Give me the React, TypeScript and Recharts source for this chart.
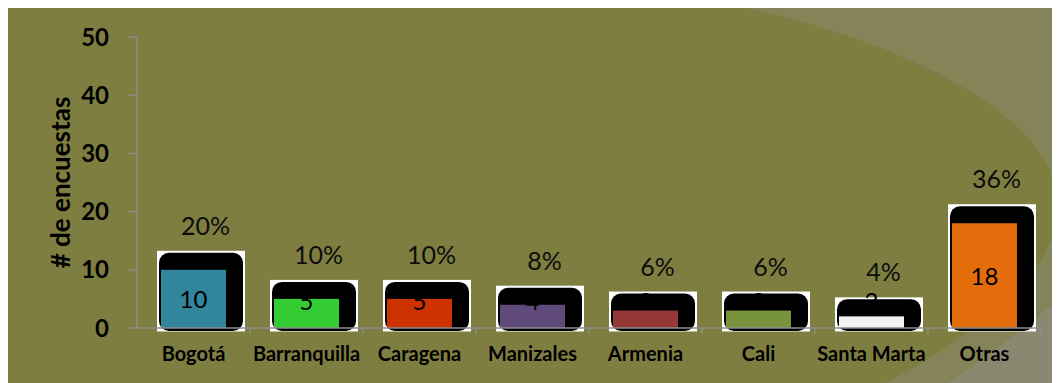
import React from "react";
import { BarChart, Bar, XAxis, YAxis, Cell, LabelList } from "recharts";

/* ── Data ── */
const ciudades = ["Bogotá", "Barranquilla", "Caragena", "Manizales", "Armenia", "Cali", "Santa Marta", "Otras"];
const encuestas = [10, 5, 5, 4, 3, 3, 2, 18];
const porcentajes = ["20%", "10%", "10%", "8%", "6%", "6%", "4%", "36%"];
const colores = ["#31859C", "#33CC33", "#CC3300", "#604A7B", "#953735", "#77933C", "#F2F2F2", "#E46C0A"];
const yTicks = [0, 10, 20, 30, 40, 50];

const data = ciudades.map((name, i) => ({ name, value: encuestas[i], pct: porcentajes[i] }));

const W = 1052;
const H = 376;
const FONT = "Lato, 'Open Sans', sans-serif";
const AXIS = "#8C8C8C";

/* ── Bar with the odd white box + black rounded shadow ── */
// eslint-disable-next-line @typescript-eslint/no-explicit-any
const ShadowBar = (props: any) => {
    const { x, y, width, height, fill } = props;
    return (
        <g>
            <rect x={x - 4} y={y - 19} width={width + 23} height={height + 22.5} fill="#FFFFFF" />
            <rect x={x - 2} y={y - 17} width={width + 19} height={height + 20} rx={10} ry={10} fill="#000000" />
            <rect x={x} y={y} width={width} height={height} fill={fill} />
        </g>
    );
};

// eslint-disable-next-line @typescript-eslint/no-explicit-any
const valueLabel = (props: any) => {
    const { x, y, width, height, value } = props;
    const cy = Math.min(y + height / 2, y + height - 28);
    return (
        <text x={x + width / 2} y={cy} textAnchor="middle" dominantBaseline="central" fontFamily={FONT} fontSize={24} fill="#000000">
            {value}
        </text>
    );
};

// eslint-disable-next-line @typescript-eslint/no-explicit-any
const pctLabel = (props: any) => {
    const { x, y, width, value } = props;
    return (
        <text x={x + width / 2 + 12} y={y - 45} textAnchor="middle" dominantBaseline="central" fontFamily={FONT} fontSize={25} fill="#0D0D0D">
            {value}
        </text>
    );
};

// eslint-disable-next-line @typescript-eslint/no-explicit-any
const XTick = (props: any) => {
    const { x, y, payload } = props;
    const half = payload && payload.offset ? payload.offset : 56.5;
    return (
        <g>
            <line x1={x + half} y1={y - 8} x2={x + half} y2={y - 2} stroke={AXIS} strokeWidth={1.5} />
            <text x={x} y={y + 25} textAnchor="middle" fontFamily={FONT} fontWeight={700} fontSize={20} fill="#000000">
                {payload.value}
            </text>
        </g>
    );
};

// eslint-disable-next-line @typescript-eslint/no-explicit-any
const YTitle = (props: any) => {
    const vb = props.viewBox || { x: 0, y: 0, height: 0 };
    const cx = 52;
    const cy = vb.y + vb.height / 2;
    return (
        <text x={cx} y={cy} transform={`rotate(-90 ${cx} ${cy})`} textAnchor="middle" dominantBaseline="central" fontFamily={FONT} fontWeight={700} fontSize={26} fill="#000000">
            # de encuestas
        </text>
    );
};

export default function App() {
    return (
        <div style={{ position: "relative", width: W, height: H, marginTop: -1, background: "#858458", overflow: "hidden" }}>
            {/* background swoosh */}
            <svg width={W} height={H} style={{ position: "absolute", left: 0, top: 0 }}>
                <path
                    d="M-8,0 L732,0 C892,33 1032,103 1049,183 C1062,253 982,323 864,383 L-8,383 Z"
                    fill="#7F7E41"
                />
                <path d="M1060,283 C1020,320 980,350 930,383 L1060,383 Z" fill="#8A8870" />
            </svg>
            <div style={{ position: "absolute", left: 0, top: 0 }}>
                <BarChart width={W} height={H} data={data} margin={{ top: 30, right: 19, bottom: 0, left: 0 }} barSize={65}>
                    <XAxis
                        dataKey="name"
                        height={55}
                        stroke={AXIS}
                        strokeWidth={1.5}
                        tickLine={false}
                        tick={<XTick />}
                        interval={0}
                    />
                    <YAxis
                        width={129}
                        domain={[0, 50]}
                        ticks={yTicks}
                        stroke={AXIS}
                        strokeWidth={1.5}
                        tickSize={8}
                        tickMargin={20}
                        tick={{ fill: "#000000", fontFamily: FONT, fontWeight: 700, fontSize: 24 }}
                        label={<YTitle />}
                    />
                    <Bar dataKey="value" shape={<ShadowBar />} isAnimationActive={false}>
                        {data.map((d, i) => (
                            <Cell key={d.name} fill={colores[i]} />
                        ))}
                        <LabelList dataKey="value" content={valueLabel} />
                        <LabelList dataKey="pct" content={pctLabel} />
                    </Bar>
                </BarChart>
            </div>
        </div>
    );
}
